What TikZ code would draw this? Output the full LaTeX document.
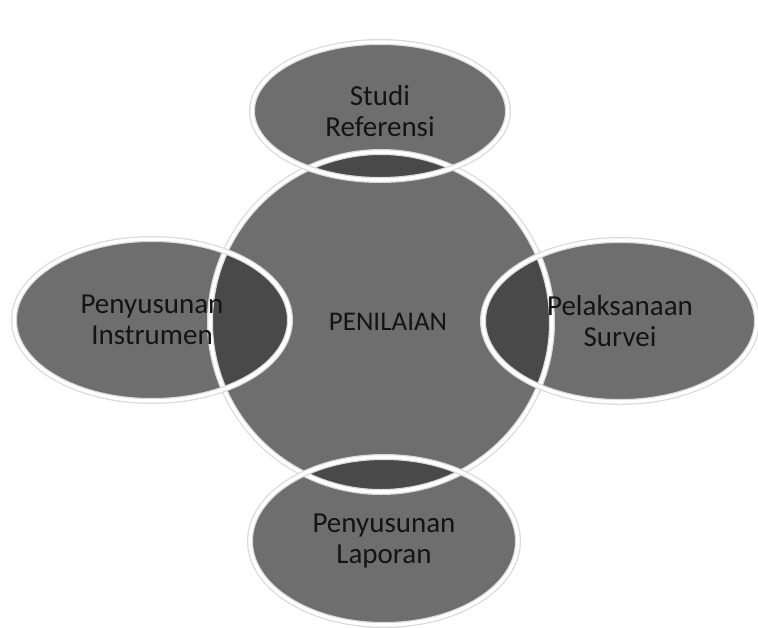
\documentclass[tikz,border=0pt]{standalone}
\usepackage{fontspec}
\setmainfont{Carlito}
\usetikzlibrary{shapes.geometric}

\begin{document}
\begin{tikzpicture}[
x=1pt, y=-1pt,
every node/.style={font=\fontsize{29}{31}\selectfont},
bubble/.style={fill=black!76, fill opacity=0.75},
rim/.style={
    ellipse,
    draw=white,
    line width=3.5pt,
    preaction={draw=gray!30, line width=6pt},
    inner sep=0pt,
    align=center,
    text=black!92
}
]

% Frame
\useasboundingbox (0,0) rectangle (758,627);

% =====================================================
% Fills (transparent, overlaps come out darker)
% =====================================================
\foreach \cx/\cy/\rx/\ry in {380/111/128/69, 152/320/138/81,
  620/321/137/81, 384/541/134/84, 381/322/171/170}{
\fill[bubble] (\cx,\cy) ellipse [x radius=\rx, y radius=\ry];
}

% =====================================================
% Outlines and labels
% =====================================================
\node[rim, minimum width=342pt, minimum height=340pt,
  font=\fontsize{27}{31}\selectfont] (nilai) at (381,322) {\hspace*{14pt}PENILAIAN};

\node[rim, minimum width=256pt, minimum height=138pt] (studi) at (380,111) {Studi\\Referensi};
\node[rim, minimum width=276pt, minimum height=162pt] (instrumen) at (152,320) {Penyusunan\\Instrumen};
\node[rim, minimum width=274pt, minimum height=162pt] (survei) at (620,321) {Pelaksanaan\\Survei};
\node[rim, minimum width=268pt, minimum height=168pt] (laporan) at (384,541) {Penyusunan\\Laporan};

\end{tikzpicture}
\end{document}
